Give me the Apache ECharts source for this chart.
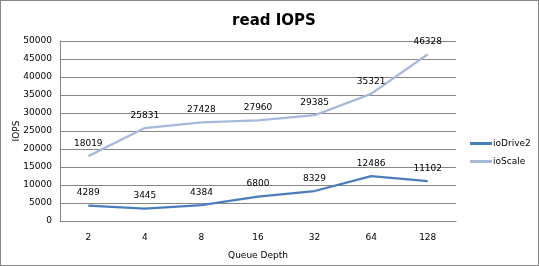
<!DOCTYPE html>
<html>
<head>
<meta charset="utf-8">
<script src="https://cdn.jsdelivr.net/npm/echarts@6/dist/echarts.min.js"></script>
<style>
  html, body { margin: 0; padding: 0; background: #fff; }
  #chart { width: 537px; height: 264px; border: 1px solid #868686; }
</style>
</head>
<body>
<div id="chart"></div>
<script>
const queueDepths = ["2", "4", "8", "16", "32", "64", "128"];
const ioDrive2 = [4289, 3445, 4384, 6800, 8329, 12486, 11102];
const ioScale = [18019, 25831, 27428, 27960, 29385, 35321, 46328];

const chart = echarts.init(document.getElementById("chart"));
const font = "Tahoma, 'DejaVu Sans', sans-serif";

const labelStyle = {
  show: true,
  position: "top",
  distance: 8,
  color: "#000",
  fontSize: 9,
  fontFamily: font,
};

chart.setOption({
  animation: false,
  title: {
    text: "read IOPS",
    left: 268,
    top: 8,
    textAlign: "center",
    textStyle: { fontSize: 15, fontWeight: "bold", color: "#000", fontFamily: font },
  },
  grid: { left: 59, right: 82, top: 40, bottom: 44, outerBoundsMode: "none", containLabel: false },
  legend: {
    orient: "vertical",
    left: 464,
    top: 133,
    itemWidth: 22,
    itemHeight: 3,
    itemGap: 9,
    icon: "rect",
    textStyle: { fontSize: 9, color: "#000", fontFamily: font, padding: [0, 0, 0, -4] },
    data: ["ioDrive2", "ioScale"],
  },
  xAxis: {
    type: "category",
    data: queueDepths,
    name: "Queue Depth",
    nameLocation: "middle",
    nameGap: 30,
    nameTextStyle: { fontSize: 9, color: "#000", fontFamily: font },
    axisLine: { lineStyle: { color: "#868686" } },
    axisTick: { show: false },
    axisLabel: { fontSize: 9, color: "#000", fontFamily: font, margin: 12 },
  },
  yAxis: {
    type: "value",
    min: 0,
    max: 50000,
    interval: 5000,
    name: "IOPS",
    nameLocation: "middle",
    nameGap: 39,
    nameMoveOverlap: false,
    nameTextStyle: { fontSize: 9, color: "#000", fontFamily: font },
    axisLine: { show: true, lineStyle: { color: "#868686" } },
    axisTick: { show: false },
    axisLabel: { fontSize: 9, color: "#000", fontFamily: font, margin: 8, formatter: (v) => String(v) },
    splitLine: { lineStyle: { color: "#868686" } },
  },
  series: [
    {
      name: "ioDrive2",
      type: "line",
      data: ioDrive2,
      symbol: "circle",
      symbolSize: 0.1,
      lineStyle: { color: "#4A7EBB", width: 2.25 },
      itemStyle: { color: "#4A7EBB" },
      label: labelStyle,
    },
    {
      name: "ioScale",
      type: "line",
      data: ioScale,
      symbol: "circle",
      symbolSize: 0.1,
      lineStyle: { color: "#A7B9DB", width: 2.25 },
      itemStyle: { color: "#A7B9DB" },
      label: labelStyle,
    },
  ],
});
</script>
</body>
</html>
